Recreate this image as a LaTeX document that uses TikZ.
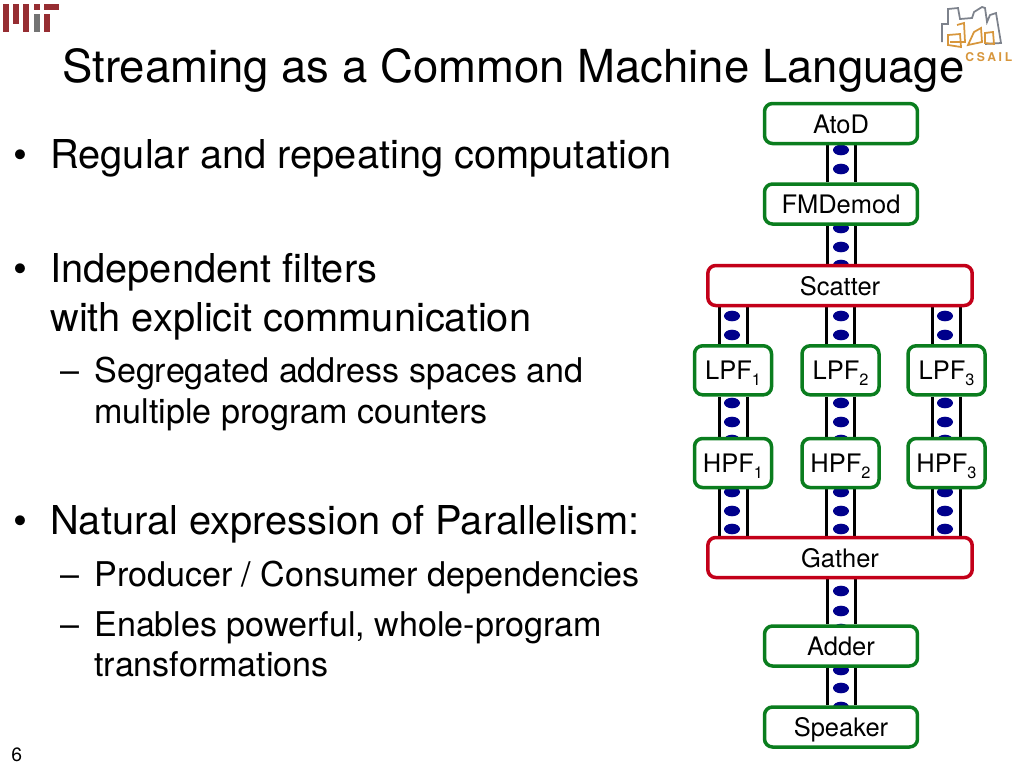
\documentclass[tikz,border=0pt]{standalone}
\usepackage{fontspec}
\setmainfont{TeX Gyre Heros}
\newfontfamily\logofont[LetterSpace=22]{TeX Gyre Heros}
\usetikzlibrary{backgrounds}
\definecolor{filtergreen}{RGB}{10,125,30}
\definecolor{splitred}{RGB}{195,0,25}
\definecolor{itemblue}{RGB}{0,0,139}
\definecolor{mitred}{RGB}{150,45,50}
\definecolor{mitgray}{RGB}{115,115,115}
\definecolor{csailgray}{RGB}{125,130,140}
\definecolor{csailorange}{RGB}{215,150,60}
\tikzset{
	filterbox/.style={draw=filtergreen, line width=0.07cm, rounded corners=0.16cm, fill=white, inner sep=0pt, text height=0.48cm, text depth=0.1cm, font=\fontsize{14.5}{16}\selectfont},
	widebox/.style={filterbox, minimum width=3.06cm, minimum height=0.8cm},
	narrowbox/.style={filterbox, minimum width=1.54cm, minimum height=0.98cm},
	splitbox/.style={filterbox, draw=splitred, minimum width=5.29cm, minimum height=0.8cm},
	titletext/.style={anchor=base west, inner sep=0pt, font=\fontsize{25.9}{30}\selectfont},
	bigtext/.style={anchor=base west, inner sep=0pt, font=\fontsize{22.65}{26}\selectfont},
	smalltext/.style={anchor=base west, inner sep=0pt, font=\fontsize{19.4}{23}\selectfont},
}
\def\channel(#1)(#2){\draw[line width=0.06cm] ([xshift=-0.28cm]#1) -- ([xshift=-0.28cm]#2);
	\draw[line width=0.06cm] ([xshift=0.28cm]#1) -- ([xshift=0.28cm]#2);}
\def\packet(#1,#2){\fill[itemblue] (#1,#2) ellipse (8 and 5.3);}
\def\lowindex#1{\raisebox{-0.12cm}{\fontsize{9.3}{10}\selectfont #1}}

\begin{document}
\begin{tikzpicture}[x=0.02cm, y=-0.02cm]
	\useasboundingbox (0,0) rectangle (1024,768);
	%%%%% LOGOS %%%%%
	\fill[mitred] (3,4) rectangle (9,32);
	\fill[mitred] (13,4) rectangle (19,24);
	\fill[mitred] (23,4) rectangle (29,32);
	\fill[mitred] (34,4) rectangle (40,10);
	\fill[mitgray] (34,14) rectangle (40,32);
	\fill[mitred] (44,4) rectangle (59,10);
	\fill[mitred] (44,14) rectangle (50,32);
	
	\draw[csailgray, line width=0.035cm] (942,42) -- (942,24) -- (948,24) -- (948,9) -- (958,8) -- (960,19) -- (972,18) -- (974,12) -- (982,7) -- (985,8) -- (987,22) -- (990,15) -- (996,13) -- (1001,43) -- (985,44);
	\draw[csailorange, line width=0.035cm] (948,35) -- (960,34) -- (961,47) -- (948,45) -- cycle;
	\draw[csailorange, line width=0.035cm] (957,25) -- (964,23) -- (965,42) -- (950,42);
	\draw[csailorange, line width=0.035cm] (968,45) -- (974,32) -- (981,28) -- (982,42) -- cycle;
	\draw[csailorange, line width=0.035cm] (985,33) -- (993,32) -- (994,44) -- (985,43) -- cycle;
	\node[anchor=base west, inner sep=0pt, text=csailorange, font=\logofont\bfseries\fontsize{6.9}{8}\selectfont] (csail) at (965,61.5) {CSAIL};
	
	%%%%% TEXT %%%%%
	\node[titletext] (title) at (62,82) {Streaming as a Common Machine Language};
	
	\node[bigtext] (bullet1) at (13,168) {•};
	\node[bigtext] (line1) at (50,168) {Regular and repeating computation};
	\node[bigtext] (bullet2) at (13,282) {•};
	\node[bigtext] (line2) at (50,282) {Independent filters};
	\node[bigtext] (line3) at (50,331) {with explicit communication};
	\node[smalltext] (dash1) at (60,382) {–};
	\node[smalltext] (line4) at (94,382) {Segregated address spaces and};
	\node[smalltext] (line5) at (94,423) {multiple program counters};
	\node[bigtext] (bullet3) at (13,534) {•};
	\node[bigtext] (line6) at (50,534) {Natural expression of Parallelism:};
	\node[smalltext] (dash2) at (60,586) {–};
	\node[smalltext] (line7) at (94,586) {Producer / Consumer dependencies};
	\node[smalltext] (dash3) at (60,636) {–};
	\node[smalltext] (line8) at (94,636) {Enables powerful, whole-program};
	\node[smalltext] (line9) at (94,676) {transformations};
	\node[anchor=base west, inner sep=0pt, font=\fontsize{11}{13}\selectfont] (pagenum) at (11,761) {6};
	
	%%%%% FILTERS %%%%%
	\node[widebox] (atod) at (841,123.5) {AtoD};
	\node[widebox] (fmdemod) at (841,204) {FMDemod};
	\node[splitbox] (scatter) at (840,285.5) {Scatter};
	\node[narrowbox] (lpf1) at (733,370.3) {LPF\lowindex{1}};
	\node[narrowbox] (lpf2) at (840.5,370.3) {LPF\lowindex{2}};
	\node[narrowbox] (lpf3) at (946.5,370.3) {LPF\lowindex{3}};
	\node[narrowbox] (hpf1) at (733,463) {HPF\lowindex{1}};
	\node[narrowbox] (hpf2) at (840.5,463) {HPF\lowindex{2}};
	\node[narrowbox] (hpf3) at (946.5,463) {HPF\lowindex{3}};
	\node[splitbox] (gather) at (840,557.5) {Gather};
	\node[widebox] (adder) at (841,646) {Adder};
	\node[widebox] (speaker) at (841,727) {Speaker};
	
	\coordinate (scatter1) at (scatter.south -| lpf1.north);
	\coordinate (scatter2) at (scatter.south -| lpf2.north);
	\coordinate (scatter3) at (scatter.south -| lpf3.north);
	\coordinate (gather1) at (gather.north -| hpf1.south);
	\coordinate (gather2) at (gather.north -| hpf2.south);
	\coordinate (gather3) at (gather.north -| hpf3.south);
	
	%%%%% CHANNELS %%%%%
	\begin{pgfonlayer}{background}
		\channel(atod.south)(fmdemod.north)
		\channel(fmdemod.south)(scatter.north -| fmdemod.south)
		\channel(scatter1)(lpf1.north)
		\channel(scatter2)(lpf2.north)
		\channel(scatter3)(lpf3.north)
		\channel(lpf1.south)(hpf1.north)
		\channel(lpf2.south)(hpf2.north)
		\channel(lpf3.south)(hpf3.north)
		\channel(hpf1.south)(gather1)
		\channel(hpf2.south)(gather2)
		\channel(hpf3.south)(gather3)
		\channel(gather.south -| adder.north)(adder.north)
		\channel(adder.south)(speaker.north)
		
		\packet(841,150) \packet(841,169)
		\packet(841,228) \packet(841,247) \packet(841,265)
		\packet(732,316) \packet(732,335)
		\packet(841,316) \packet(841,335)
		\packet(945,316) \packet(945,335)
		\packet(732,403) \packet(732,422) \packet(732,440)
		\packet(841,403) \packet(841,422) \packet(841,440)
		\packet(945,403) \packet(945,422) \packet(945,440)
		\packet(732,492) \packet(732,511) \packet(732,529)
		\packet(841,492) \packet(841,511) \packet(841,529)
		\packet(945,492) \packet(945,511) \packet(945,529)
		\packet(841,591) \packet(841,611) \packet(841,629)
		\packet(841,670) \packet(841,688) \packet(841,707)
	\end{pgfonlayer}
\end{tikzpicture}
\end{document}
